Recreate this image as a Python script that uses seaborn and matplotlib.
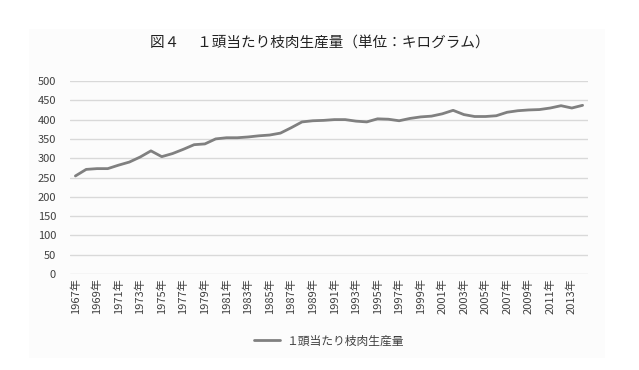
import matplotlib
matplotlib.use("Agg")
import matplotlib.pyplot as plt
import seaborn as sns
import pandas as pd
from matplotlib.patches import Rectangle

years = list(range(1967, 2015))
values = [254, 271, 273, 273, 282, 290, 303, 319, 304, 312,
          323, 335, 337, 350, 353, 353, 355, 358, 360, 365,
          379, 394, 397, 398, 400, 400, 396, 394, 402, 401,
          397, 403, 407, 409, 415, 424, 413, 408, 408, 410,
          419, 423, 425, 426, 430, 436, 430, 437]
series_name = "１頭当たり枝肉生産量"
title = "図４　 １頭当たり枝肉生産量（単位：キログラム）"
yticks = list(range(0, 501, 50))

sns.set_theme(style="white")
plt.rcParams['font.family'] = ['Noto Sans CJK JP', 'DejaVu Sans']

df = pd.DataFrame({"pos": range(len(years)), "value": values, "series": series_name})

fig = plt.figure(figsize=(6.39, 3.70), dpi=100)
fig.patch.set_facecolor("white")
bg = fig.add_axes([0, 0, 1, 1], zorder=-10)
bg.set_axis_off()
bg.set_xlim(0, 1)
bg.set_ylim(0, 1)
bg.add_patch(Rectangle((29/639, 1-358/370), (605-29)/639, (358-29)/370,
                       facecolor="#fcfcfc", edgecolor="none"))

ax = fig.add_axes([70/639, 1-274/370, (588-70)/639, (274-81)/370], zorder=1)
ax.set_facecolor("none")

sns.lineplot(data=df, x="pos", y="value", hue="series", palette=["#808080"],
             linewidth=2.0, ax=ax)

ax.set_xlim(-0.5, len(years) - 0.5)
ax.set_ylim(0, 500)
ax.set_yticks(yticks)
ax.set_yticklabels([str(v) for v in yticks], fontsize=8, color="#404040")
ax.yaxis.grid(True, color="#d9d9d9", linewidth=1.0)
ax.xaxis.grid(False)
ax.set_axisbelow(True)
for s in ax.spines.values():
    s.set_visible(False)
ax.tick_params(axis="y", length=0, pad=10)
xt = list(range(0, len(years), 2))
ax.set_xticks(xt)
ax.set_xticklabels([f"{years[i]}年" for i in xt], rotation=90, fontsize=8, color="#404040")
ax.tick_params(axis="x", length=0, pad=3)
ax.set_xlabel("")
ax.set_ylabel("")

fig.text(0.5, 1 - 43/370, title, ha="center", va="center", fontsize=10.5, color="#222222")

leg = ax.legend(loc="center", bbox_to_anchor=(0.5, (274 - 341) / (274 - 81)),
                frameon=False, fontsize=8.5, handlelength=2.2, handletextpad=0.5)
for t in leg.get_texts():
    t.set_color("#404040")

fig.savefig("out.png", dpi=100, facecolor="white")
